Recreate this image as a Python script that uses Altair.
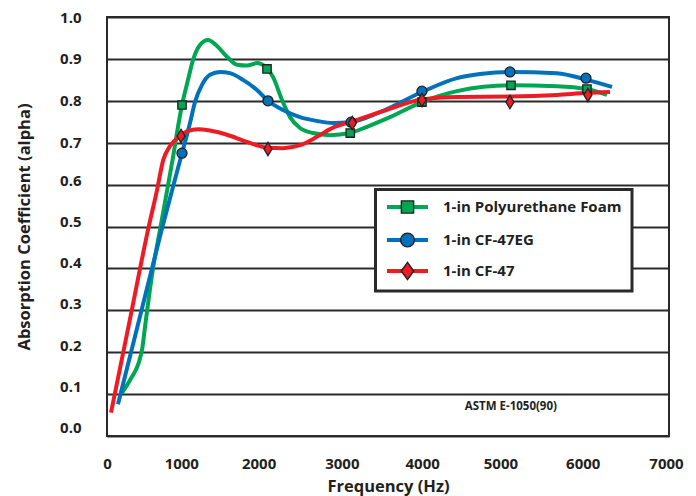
import altair as alt
import pandas as pd

# ---------------- data ----------------
series_names = ["1-in Polyurethane Foam", "1-in CF-47EG", "1-in CF-47"]
series_colors = ["#00a651", "#0072bc", "#ed1c24"]

# smooth curves
foam_curve_x = [187, 300, 390, 440, 470, 573, 660, 810, 934, 1009, 1071, 1158, 1258, 1370,
                1495, 1619, 1744, 1868, 1980, 2067, 2180, 2280, 2404, 2566, 2777, 3026,
                3238, 3525, 3923, 4359, 5032, 5604, 5978, 6227]
foam_curve_y = [0.103, 0.138, 0.172, 0.210, 0.255, 0.400, 0.492, 0.652, 0.790, 0.850, 0.897,
                0.933, 0.945, 0.931, 0.905, 0.886, 0.884, 0.890, 0.880, 0.857, 0.802, 0.761,
                0.735, 0.723, 0.718, 0.723, 0.738, 0.761, 0.797, 0.823, 0.837, 0.835, 0.828,
                0.814]

eg_curve_x = [137, 400, 681, 934, 1034, 1096, 1183, 1283, 1407, 1532, 1694, 1868, 2005, 2192,
              2404, 2615, 2815, 3026, 3400, 3923, 4359, 4645, 5019, 5604, 5978, 6290]
eg_curve_y = [0.076, 0.277, 0.492, 0.675, 0.747, 0.797, 0.838, 0.862, 0.869, 0.866, 0.850,
              0.826, 0.800, 0.778, 0.761, 0.752, 0.747, 0.749, 0.773, 0.821, 0.854, 0.864,
              0.869, 0.866, 0.850, 0.833]

cf_curve_x = [50, 280, 511, 623, 701, 785, 909, 1009, 1133, 1283, 1495, 1744, 2005, 2192, 2404,
              2615, 2815, 3026, 3400, 3923, 4359, 5019, 5604, 5978, 6265]
cf_curve_y = [0.056, 0.273, 0.492, 0.587, 0.659, 0.692, 0.716, 0.728, 0.732, 0.729, 0.719,
              0.702, 0.688, 0.687, 0.694, 0.714, 0.736, 0.749, 0.773, 0.803, 0.809, 0.810,
              0.814, 0.819, 0.821]

# measured points (markers)
foam_pts_x = [934, 1993, 3030, 3923, 5032, 5978]
foam_pts_y = [0.790, 0.876, 0.723, 0.797, 0.837, 0.828]
eg_pts_x = [934, 2005, 3040, 3923, 5019, 5966]
eg_pts_y = [0.675, 0.800, 0.749, 0.823, 0.869, 0.854]
cf_pts_x = [922, 2005, 3055, 3923, 5019, 5990]
cf_pts_y = [0.716, 0.685, 0.747, 0.802, 0.797, 0.814]

x_ticks = [0, 1000, 2000, 3000, 4000, 5000, 6000, 7000]
y_ticks = [0.0, 0.1, 0.2, 0.3, 0.4, 0.5, 0.6, 0.7, 0.8, 0.9, 1.0]

note_text = ["ASTM E-1050(90)"]
note_x = [5030]
note_y = [0.069]

# ---------------- styling ----------------
FONT = "Open Sans"
TXT = "#231f20"
DIAMOND = "M0,-1L0.6,0L0,1L-0.6,0Z"
LEG_DIAMOND = "M0,-1L0.72,0L0,1L-0.72,0Z"
shapes = ["square", "circle", DIAMOND]
pt_sizes = [70, 100, 180]
leg_shapes = ["square", "circle", LEG_DIAMOND]
leg_sizes = [150, 190, 300]

curves = [(foam_curve_x, foam_curve_y), (eg_curve_x, eg_curve_y), (cf_curve_x, cf_curve_y)]
points = [(foam_pts_x, foam_pts_y), (eg_pts_x, eg_pts_y), (cf_pts_x, cf_pts_y)]

x_enc = alt.X(
    "freq:Q",
    scale=alt.Scale(domain=[0, 7000], nice=False),
    axis=alt.Axis(
        values=x_ticks, format="d", grid=False, ticks=False, domain=False,
        labelFlush=False, labelOverlap=False, labelPadding=20,
        labelOffset={"expr": "datum.value == 0 ? 0 : datum.value == 7000 ? -3 : (datum.value == 2000 ? -9 : (datum.value == 5000 ? -8 : -6))"},
        title="Frequency (Hz)", titlePadding=7,
    ),
)
y_enc = alt.Y(
    "alpha:Q",
    scale=alt.Scale(domain=[0, 1], nice=False),
    axis=alt.Axis(
        values=y_ticks, format=".1f", grid=True, ticks=False, domain=False,
        labelPadding=26,
        labelOffset={"expr": "datum.value > 0.65 ? 0 : -4 - (0.6 - datum.value) * 8"},
        title="Absorption Coefficient (alpha)", titlePadding=27,
    ),
)

layers = []
for name, color, (cx, cy) in zip(series_names, series_colors, curves):
    df = pd.DataFrame({"freq": cx, "alpha": cy, "series": name})
    layers.append(
        alt.Chart(df).mark_line(interpolate="monotone", color=color, strokeWidth=4,
                                strokeCap="butt").encode(x=x_enc, y=y_enc)
    )
for name, color, shape, size, (px, py) in zip(series_names, series_colors, shapes, pt_sizes, points):
    df = pd.DataFrame({"freq": px, "alpha": py, "series": name})
    layers.append(
        alt.Chart(df).mark_point(shape=shape, filled=True, fill=color, stroke=TXT,
                                 strokeWidth=1.3, size=size, opacity=1).encode(x="freq:Q", y="alpha:Q")
    )

note_df = pd.DataFrame({"freq": note_x, "alpha": note_y, "t": note_text})
layers.append(
    alt.Chart(note_df).mark_text(font=FONT, fontWeight="bold", fontSize=11.5, color=TXT,
                                 align="center", baseline="middle")
    .encode(x="freq:Q", y="alpha:Q", text="t:N")
)

# ---------------- legend box (drawn inside the plot) ----------------
box_df = pd.DataFrame({"k": [0]})
layers.append(
    alt.Chart(box_df).mark_rect(fill="white", stroke="#2a2a2a", strokeWidth=3)
    .encode(x=alt.value(268.5), x2=alt.value(525), y=alt.value(172.5), y2=alt.value(274))
)
leg_y = [190, 223, 254]
for name, color, shape, size, yy in zip(series_names, series_colors, leg_shapes, leg_sizes, leg_y):
    ldf = pd.DataFrame({"label": [name]})
    base = alt.Chart(ldf)
    layers.append(base.mark_rule(color=color, strokeWidth=4)
                  .encode(x=alt.value(280), x2=alt.value(321), y=alt.value(yy)))
    layers.append(base.mark_point(shape=shape, filled=True, fill=color, stroke=TXT,
                                  strokeWidth=1.4, size=size, opacity=1)
                  .encode(x=alt.value(300.5), y=alt.value(yy)))
    layers.append(base.mark_text(font=FONT, fontWeight="bold", fontSize=15, color=TXT,
                                 align="left", baseline="middle")
                  .encode(x=alt.value(336), y=alt.value(yy), text="label:N"))

chart = (
    alt.layer(*layers)
    .properties(width=562, height=419,
                autosize=alt.AutoSizeParams(type="none"),
                padding={"left": 107, "top": 17, "right": 27, "bottom": 60},
                background="white")
    .configure_view(stroke="#2a2a2a", strokeWidth=2)
    .configure_axis(
        labelFont=FONT, labelFontWeight="bold", labelFontSize=15, labelColor=TXT,
        titleFont=FONT, titleFontWeight="bold", titleFontSize=16.5, titleColor=TXT,
        gridColor="#2a2a2a", gridWidth=1.8, gridOpacity=1,
    )
)

chart.save("out.html", embed_options={"renderer": "svg", "actions": False})
